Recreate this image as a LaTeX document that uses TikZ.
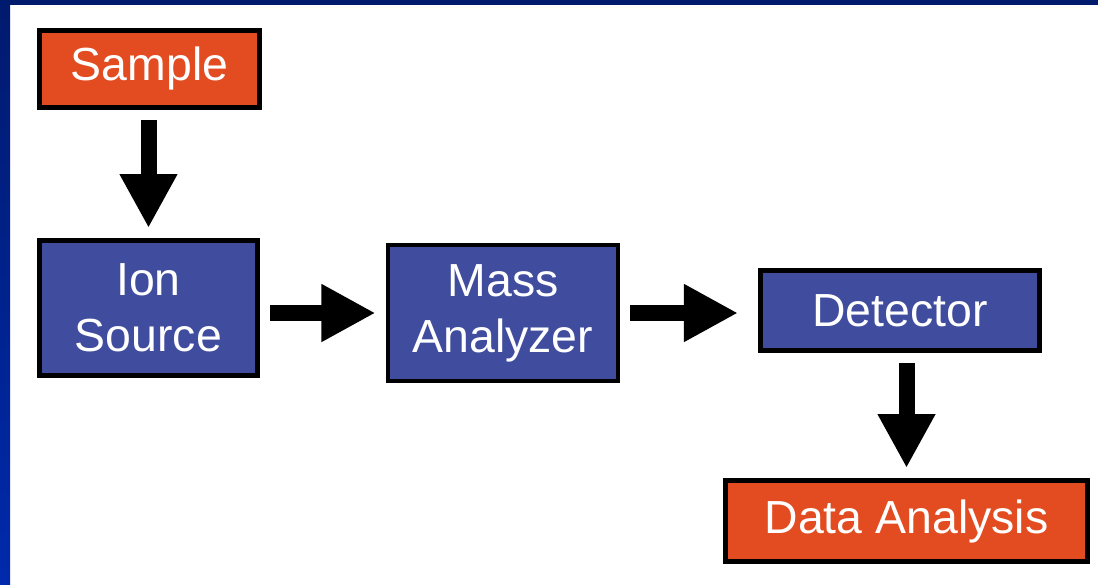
\documentclass[tikz,border=0pt]{standalone}
\usepackage{fontspec}
\setmainfont{Liberation Sans}
\usetikzlibrary{arrows.meta,positioning}
\definecolor{boxorange}{RGB}{226,76,32}
\definecolor{boxblue}{RGB}{64,77,158}
\definecolor{navytop}{RGB}{0,26,110}
\definecolor{navybot}{RGB}{0,42,172}

\begin{document}
\begin{tikzpicture}[x=0.025cm, y=-0.025cm,
  flow/.style={line width=16*0.025cm, -{Triangle[length=1.35cm, width=1.35cm]}, shorten <=10*0.025cm, shorten >=10*0.025cm}]
\tikzstyle{block}=[draw=black, line width=3.5pt, text=white, align=center, inner sep=0pt, font=\fontsize{33}{40}\selectfont]
\tikzstyle{io}=[block, fill=boxorange]
\tikzstyle{unit}=[block, fill=boxblue]
% background and frame
\fill[white] (0,0) rectangle (1098,585);
\shade[top color=navytop, bottom color=navybot] (0,0) rectangle (10,585);
\fill[navytop] (0,0) rectangle (1098,5);
% blocks
\node[io, minimum width=5.5cm, minimum height=1.925cm] (sample) at (149.5,69) {Sample};
\node[unit, minimum width=5.45cm, minimum height=3.375cm] (ion) at (148.5,308) {Ion\\Source};
\node[unit, minimum width=5.75cm, minimum height=3.4cm] (mass) at (503,313) {Mass\\Analyzer};
\node[unit, minimum width=6.975cm, minimum height=2cm] (det) at (900,310.5) {Detector};
\node[io, minimum width=9.05cm, minimum height=2.025cm] (data) at (906.5,521) {Data Analysis};
% arrows
\draw[flow] (sample.south -| ion.north) -- (ion.north);
\draw[flow] (ion.east |- mass.west) -- (mass.west);
\draw[flow, shorten >=20*0.025cm] (mass.east) -- (mass.east -| det.west);
\draw[flow] (det.south -| data.north) -- (data.north);
\end{tikzpicture}
\end{document}
